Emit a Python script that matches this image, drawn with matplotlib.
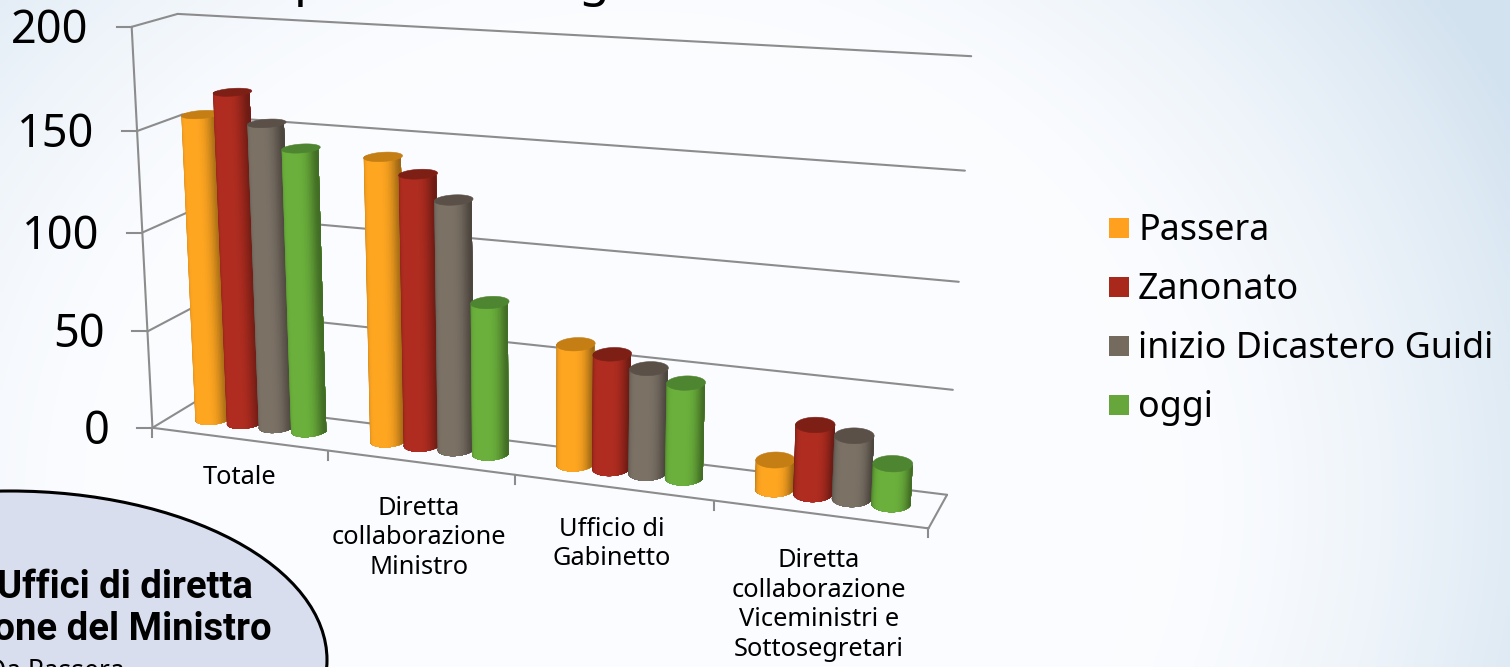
import numpy as np
import matplotlib
matplotlib.use('Agg')
import matplotlib.pyplot as plt
from matplotlib.collections import PolyCollection
from matplotlib.patches import Ellipse, Rectangle

plt.rcParams['font.family'] = ['Noto Sans', 'DejaVu Sans']

categories = ['Totale', 'Diretta\ncollaborazione\nMinistro', 'Ufficio di\nGabinetto',
              'Diretta\ncollaborazione\nViceministri e\nSottosegretari']
series = ['Passera', 'Zanonato', 'inizio Dicastero Guidi', 'oggi']
passera = [155, 141, 59, 14]
zanonato = [167, 134, 56, 33]
guidi = [153, 123, 51, 30]
oggi = [142, 75, 46, 19]
values = [passera, zanonato, guidi, oggi]
yticks = [0, 50, 100, 150, 200]

side_colors = ['#ffa621', '#b02c20', '#7b7165', '#6bb03c']
top_colors = ['#c47e14', '#7e1f15', '#5a5048', '#4e8530']
legend_colors = ['#ffa01e', '#a8281c', '#746b5e', '#66a63a']
grid_color = '#8c8c8c'

# camera fit: (category, depth, value) -> pixel, from the corners of the 3d box
calib = [
    (0, 0, 0, 153, 427), (0, 0, 50, 148, 330), (0, 0, 100, 143, 231),
    (0, 0, 150, 137, 130), (0, 0, 200, 131, 27), (0, 1, 200, 178, 15),
    (0, 1, 150, 182, 115), (0, 1, 100, 186, 213), (0, 1, 0, 195, 402),
    (4, 1, 200, 971, 57), (4, 1, 150, 965, 170), (4, 1, 100, 960, 282),
    (4, 1, 50, 953, 389), (4, 1, 0, 947, 493), (4, 0, 0, 928, 528),
    (1, 0, 0, 328, 452), (2, 0, 0, 515, 477), (3, 0, 0, 713, 502),
]
rows = []
for u, d, v, px, py in calib:
    w = [u, d, v / 200, 1]
    rows.append(w + [0, 0, 0, 0] + [-px * c for c in w])
    rows.append([0, 0, 0, 0] + w + [-py * c for c in w])
P = np.linalg.svd(np.array(rows, float))[2][-1].reshape(3, 4)


def project(u, d, v):
    u, d, v = np.broadcast_arrays(u, d, v)
    pts = np.stack([u, d, v / 200, np.ones(u.shape)])
    x, y, w = P @ pts
    return x / w, y / w


def line(ax, a, b, n=2):
    x, y = project(np.linspace(a[0], b[0], n), np.linspace(a[1], b[1], n), np.linspace(a[2], b[2], n))
    ax.plot(x, y, color=grid_color, lw=1.5, solid_capstyle='round')


fig = plt.figure(figsize=(15.10, 6.67), dpi=100)
ax = fig.add_axes([0, 0, 1, 1])

# slide background
gx, gy = np.meshgrid(np.linspace(0, 1, 302), np.linspace(0, 1, 134))
dist = np.sqrt(((gx - 0.42) / 0.62) ** 2 + ((gy - 0.75) / 1.25) ** 2)
t = np.clip((dist - 0.55) / 0.5, 0, 1)[..., None] ** 1.6
bg = (1 - t) * np.array([0.985, 0.99, 1.0]) + t * np.array([0.83, 0.89, 0.94])
ax.imshow(bg, extent=(0, 1510, 667, 0), aspect='auto', zorder=0, interpolation='bilinear')

# walls and floor
for v in yticks:
    line(ax, (0, 0, v), (0, 1, v))
    line(ax, (0, 1, v), (4, 1, v))
    x, y = project(0, 0, v)
    ax.plot([x - 15, x], [y, y], color=grid_color, lw=1.5)
    ax.text(x - 43, y + 4, str(v), fontsize=32.5, ha='right', va='center', color='black')
line(ax, (0, 0, 0), (0, 0, 200))
line(ax, (0, 0, 0), (4, 0, 0))
line(ax, (4, 0, 0), (4, 1, 0))
for i in range(5):
    x, y = project(i, 0, 0)
    ax.plot([x, x], [y, y + 9], color=grid_color, lw=1.5)

# cylinders, each slice runs to the right edge so no seams show
bar_step = 0.185
radius = 0.09
depth_radius = 0.25
center_depth = 0.55
theta = np.radians(np.linspace(175, 365, 41))
for s in range(4):
    for c in range(4):
        u0 = c + 0.5 + (s - 1.5) * bar_step
        v = values[s][c]
        xs = u0 + radius * np.cos(theta)
        ds = center_depth + depth_radius * np.sin(theta)
        x0, y0 = project(xs, ds, 0)
        x1, y1 = project(xs, ds, v)
        polys = []
        cols = []
        base = np.array(matplotlib.colors.to_rgb(side_colors[s]))
        for k in range(len(theta) - 1):
            polys.append(np.column_stack([np.r_[x0[k:], x1[k:][::-1]], np.r_[y0[k:], y1[k:][::-1]]]))
            m = abs(np.cos((theta[k] + theta[k + 1]) / 2))
            cols.append(base * (0.62 + 0.38 * np.clip(1 - m ** 4.5, 0, 1)))
        ax.add_collection(PolyCollection(polys, facecolors=cols, edgecolors='none', zorder=3))
        full = np.radians(np.linspace(0, 360, 73))
        xt, yt = project(u0 + radius * np.cos(full), center_depth + depth_radius * np.sin(full), v)
        ax.fill(xt, yt, color=top_colors[s], lw=0.4, zorder=3)

# category labels
label_x = [240, 419, 612, 819]
label_y = [478, 538, 544, 605]
for name, x, y in zip(categories, label_x, label_y):
    ax.text(x, y, name, fontsize=18.3, ha='center', va='center', linespacing=1.24, color='black')

# legend
for i, name in enumerate(series):
    y = 228 + i * 59
    ax.add_patch(Rectangle((1109, y - 10), 20, 20, facecolor=legend_colors[i], edgecolor='none', zorder=3))
    ax.text(1138, y + 3, name, fontsize=25.8, ha='left', va='center', color='black')

# callout
ax.add_patch(Ellipse((10, 660), 634, 338, facecolor='#d9deef', edgecolor='black', lw=2.2, zorder=4))
ax.text(253, 587, 'Uffici di diretta', fontsize=27.5, family='Roboto', fontweight='bold', ha='right', va='center', zorder=5)
ax.text(272, 630, 'collaborazione del Ministro', fontsize=27.5, family='Roboto', fontweight='bold', ha='right', va='center', zorder=5)
ax.text(125, 672, 'Da Passera', fontsize=19, ha='right', va='center', zorder=5)

# bottoms of the cut off title
ax.text(309, -5, 'p', fontsize=36, ha='center', va='baseline', zorder=5)
ax.text(594, -5, 'g', fontsize=36, ha='center', va='baseline', zorder=5)

ax.set_xlim(0, 1510)
ax.set_ylim(667, 0)
ax.axis('off')
fig.savefig('out.png', dpi=100)
